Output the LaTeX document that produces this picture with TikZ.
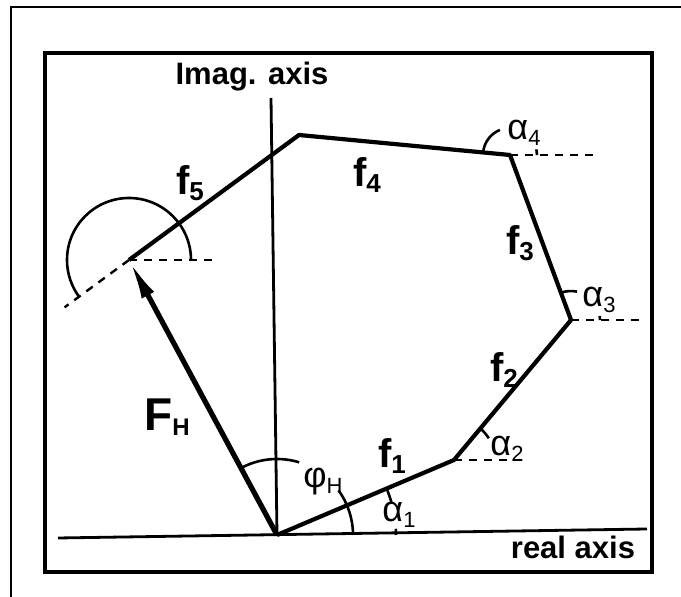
\documentclass[tikz,border=0pt]{standalone}
\usepackage{fontspec}
\setmainfont{Liberation Sans}
\usetikzlibrary{arrows.meta,calc}
\newcommand{\sublab}[4]{{\fontsize{#1}{#1}\selectfont #2}\raisebox{-0.28em}{\fontsize{#3}{#3}\selectfont #4}}
\begin{document}
\begin{tikzpicture}[x=0.5pt,y=0.5pt,
  outerline/.style={line width=0.9pt},
  frameline/.style={line width=2.4pt},
  axisline/.style={line width=1.4pt},
  edge/.style={line width=2.1pt,line join=round},
  forcevec/.style={line width=2.6pt,-{Latex[length=20pt,width=7pt]}},
  dashline/.style={line width=1.2pt,dash pattern=on 4pt off 3.5pt},
  anglearc/.style={line width=1.3pt},
  axislab/.style={font=\bfseries\fontsize{15.5}{16}\selectfont,inner sep=0pt,anchor=base},
  flab/.style={font=\bfseries,inner sep=0pt},
  anglab/.style={inner sep=0pt}
]
\useasboundingbox (0,-597) rectangle (681,0);
% outer partial frame
\draw[outerline] (681,-7) -- (11,-7) -- (11,-597);
% inner frame
\draw[frameline] (45,-53) rectangle (652,-572);
% points
\coordinate (O) at (277,-535);
\coordinate (P1) at (454,-460);
\coordinate (P2) at (571,-320);
\coordinate (P3) at (510,-155);
\coordinate (P4) at (299,-135);
\coordinate (P5) at (129,-260);
\coordinate (AxTop) at (271,-98);
\coordinate (RL) at (58,-538);
\coordinate (RR) at (647,-529);
% axes
\draw[axisline] (AxTop) -- (O);
\draw[axisline] (RL) -- (RR);
\node[axislab] (imag) at (252,-85) {Imag. axis};
\node[axislab] (real) at (573,-559) {real axis};
% polygon of f vectors
\draw[edge] (O) -- (P1) -- (P2) -- (P3) -- (P4) -- (P5);
% resulting vector F_H
\draw[forcevec] (O) -- (P5);
% dashed reference lines
\coordinate (D5h) at (218,-260);
\coordinate (D5b) at ($(P5)+(216.3:80)$);
\coordinate (D1) at (523,-460);
\coordinate (D2) at (640,-320);
\coordinate (D3) at (593,-155);
\draw[dashline] (P5) -- (D5h);
\draw[dashline] (P5) -- (D5b);
\draw[dashline] (P1) -- (D1);
\draw[dashline] (P2) -- (D2);
\draw[dashline] (P3) -- (D3);
% angle arcs
\draw[anglearc] ($(P5)+(0:62)$) arc[start angle=0,end angle=216.3,radius=62];
\draw[anglearc] ($(P3)+(0:27)$) arc[start angle=0,end angle=12,radius=27];
\draw[anglearc] ($(P3)+(112:27)$) arc[start angle=112,end angle=174.6,radius=27];
\draw[anglearc] ($(P2)+(0:29)$) arc[start angle=0,end angle=8,radius=29];
\draw[anglearc] ($(P2)+(78:29)$) arc[start angle=78,end angle=110.3,radius=29];
\draw[anglearc] ($(P1)+(32:41)$) arc[start angle=32,end angle=50.1,radius=41];
\draw[anglearc] ($(O)+(0:119)$) arc[start angle=0,end angle=3,radius=119];
\draw[anglearc] ($(O)+(16:119)$) arc[start angle=16,end angle=22.7,radius=119];
\draw[anglearc] ($(O)+(0:76)$) arc[start angle=0,end angle=36,radius=76];
\draw[anglearc] ($(O)+(73:76)$) arc[start angle=73,end angle=118.4,radius=76];
% labels
\node[flab] (f1) at (392,-456) {\sublab{20}{f}{13}{1}};
\node[flab] (f2) at (504,-370) {\sublab{20}{f}{13}{2}};
\node[flab] (f3) at (520,-243) {\sublab{20}{f}{13}{3}};
\node[flab] (f4) at (367,-175) {\sublab{20}{f}{13}{4}};
\node[flab] (f5) at (190,-183) {\sublab{20}{f}{13}{5}};
\node[flab] (FH) at (167,-417) {\sublab{23}{F}{12}{H}};
\node[anglab] (a1) at (399,-515) {\sublab{18}{α}{11}{1}};
\node[anglab] (a2) at (507,-449) {\sublab{18}{α}{11}{2}};
\node[anglab] (a3) at (599,-300) {\sublab{18}{α}{11}{3}};
\node[anglab] (a4) at (524,-133) {\sublab{18}{α}{11}{4}};
\node[anglab] (phi) at (323,-482) {\sublab{18}{φ}{11}{H}};
\end{tikzpicture}
\end{document}
